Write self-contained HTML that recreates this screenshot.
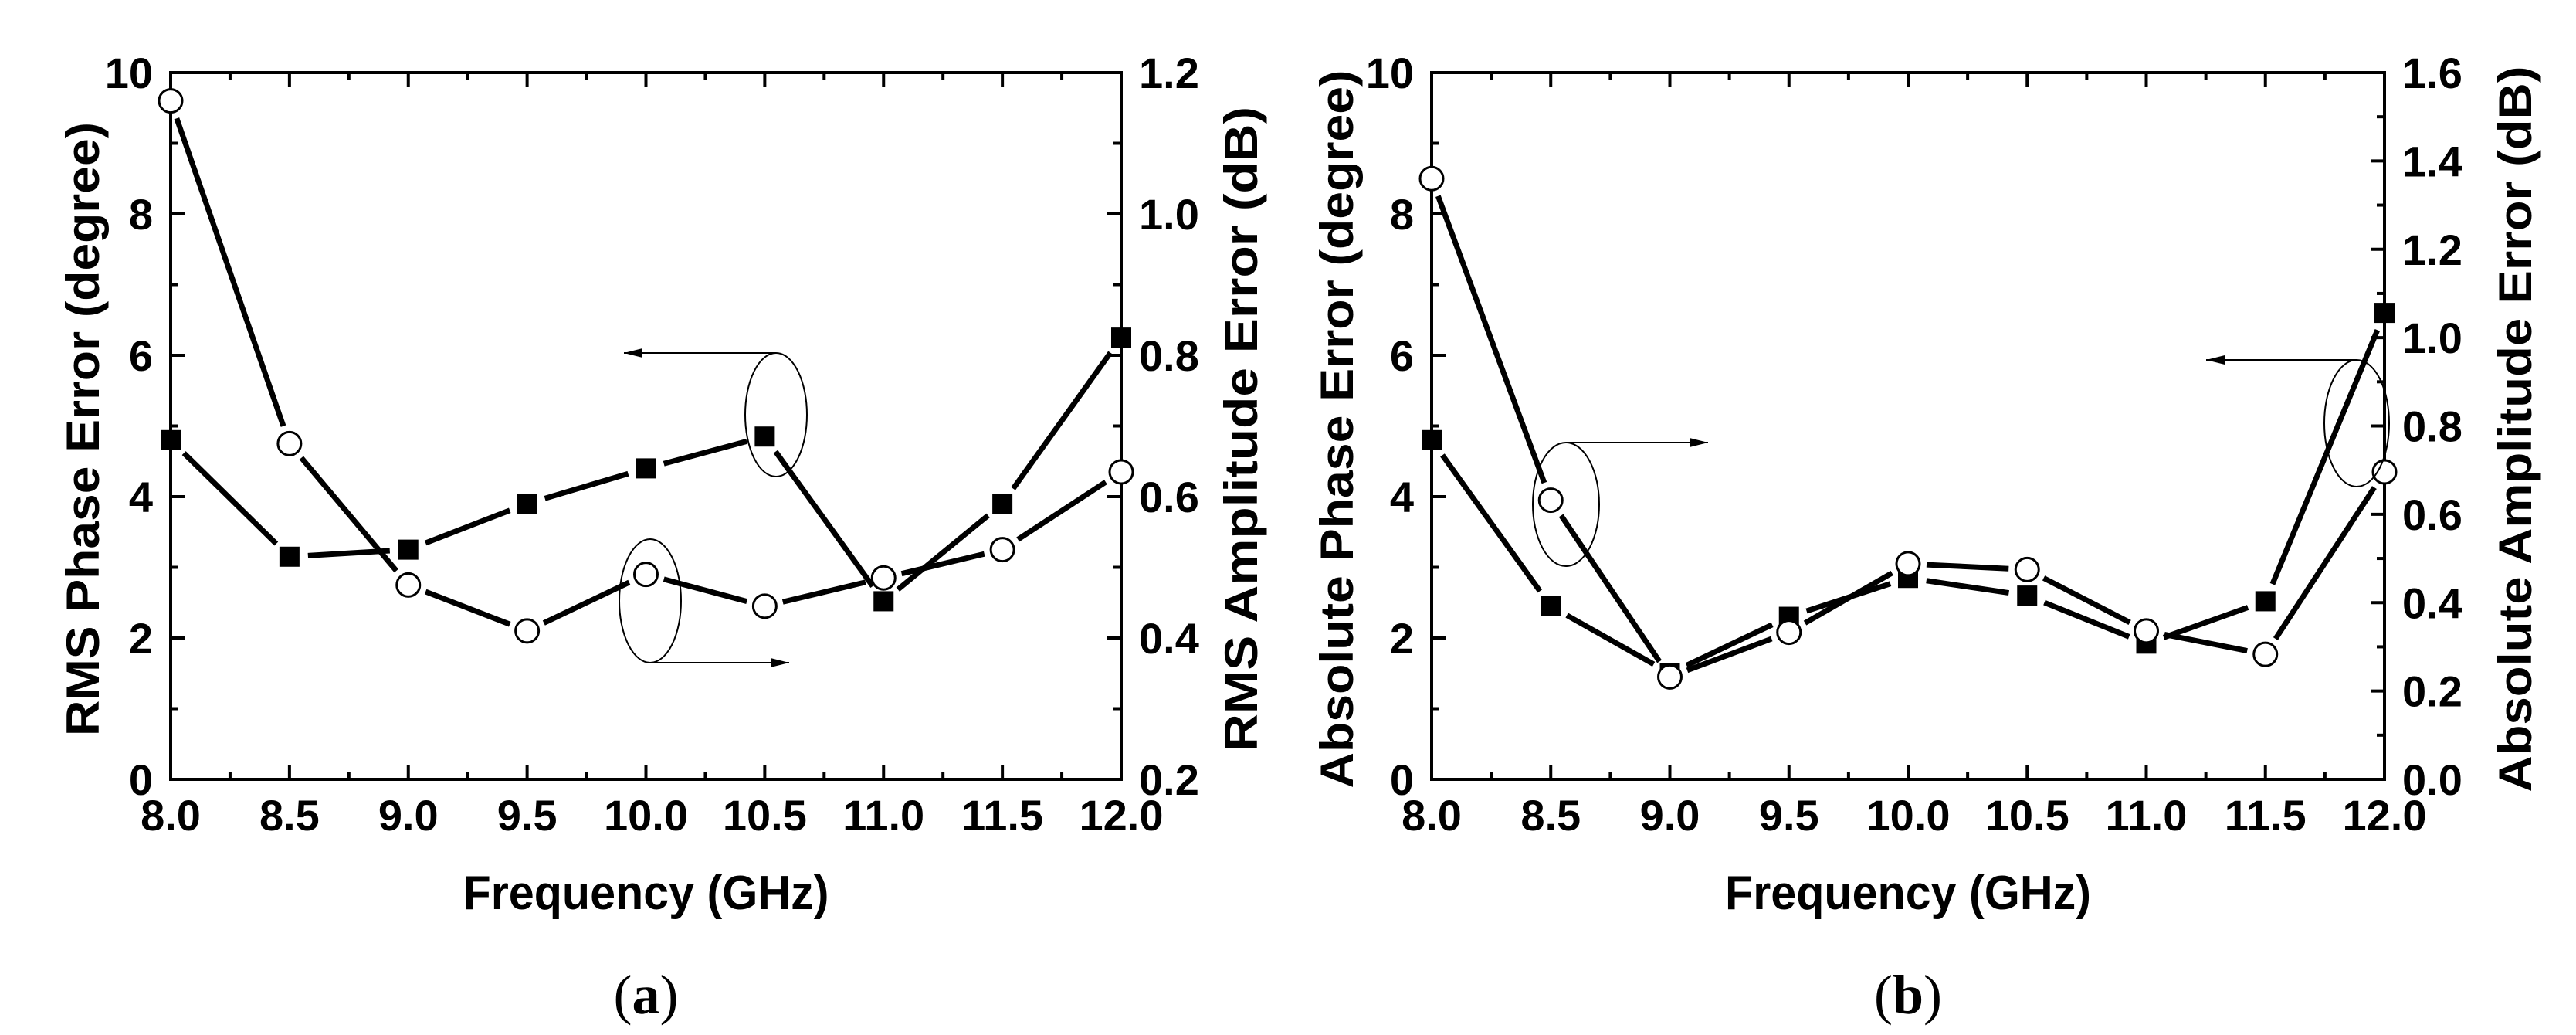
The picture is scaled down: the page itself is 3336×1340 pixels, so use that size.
<!DOCTYPE html>
<html><head><meta charset="utf-8"><style>
html,body{margin:0;padding:0;background:#fff;}
svg{display:block;}
text{font-family:"Liberation Sans",Arial,sans-serif;font-weight:bold;fill:#000;}
</style></head><body>
<svg id="fig" width="3336" height="1340" viewBox="0 0 3336 1340" xmlns="http://www.w3.org/2000/svg"></svg>
<script>
// ---------- data ----------
const freqs = [8.0, 8.5, 9.0, 9.5, 10.0, 10.5, 11.0, 11.5, 12.0];
const xTickLabels = ["8.0","8.5","9.0","9.5","10.0","10.5","11.0","11.5","12.0"];
// panel (a)
const rmsPhase = [4.8, 3.15, 3.25, 3.9, 4.4, 4.85, 2.52, 3.9, 6.25];
const rmsAmp = [1.16, 0.675, 0.475, 0.41, 0.49, 0.445, 0.485, 0.525, 0.635];
const aLeftTicks = ["0","2","4","6","8","10"];
const aRightTicks = ["0.2","0.4","0.6","0.8","1.0","1.2"];
// panel (b)
const absPhase = [4.8, 2.45, 1.5, 2.3, 2.85, 2.6, 1.92, 2.52, 6.6];
const absAmp = [1.36, 0.632, 0.232, 0.333, 0.488, 0.475, 0.336, 0.283, 0.696];
const bLeftTicks = ["0","2","4","6","8","10"];
const bRightTicks = ["0.0","0.2","0.4","0.6","0.8","1.0","1.2","1.4","1.6"];

const NS = "http://www.w3.org/2000/svg";
const svg = document.getElementById("fig");
function mk(tag, attrs, parent){
  const e = document.createElementNS(NS, tag);
  for (const k in attrs) e.setAttribute(k, attrs[k]);
  (parent||svg).appendChild(e);
  return e;
}
function txt(str, attrs, parent){ const t = mk("text", attrs, parent); t.textContent = str; return t; }

function panel(cfg){
  const g = mk("g", {});
  
  
  const L=cfg.left, R=cfg.right, T=94, B=1009;
  const xs = f => L + (f-8)/4*(R-L);
  const yl = v => B - (v-cfg.lmin)/(cfg.lmax-cfg.lmin)*(B-T);
  const yr = v => B - (v-cfg.rmin)/(cfg.rmax-cfg.rmin)*(B-T);
  const fr = mk("rect", {x:L,y:T,width:R-L,height:B-T,fill:"none",stroke:"#000","stroke-width":4}, g);
  
  
  for (let i=0;i<=16;i++){
    const x = L + i/16*(R-L); const len = i%2===0?18:10;
    mk("line",{x1:x,y1:B,x2:x,y2:B-len,stroke:"#000","stroke-width":4},g);
    mk("line",{x1:x,y1:T,x2:x,y2:T+len,stroke:"#000","stroke-width":4},g);
  }
  xTickLabels.forEach((s,i)=>{
    const t = txt(s,{x:xs(freqs[i]),y:1075,"font-size":56,"text-anchor":"middle"},g);
    
    
  });
  const nl = cfg.leftTicks.length-1;
  for (let i=0;i<=nl*2;i++){
    const y = B - i/(nl*2)*(B-T); const len = i%2===0?18:10;
    mk("line",{x1:L,y1:y,x2:L+len,y2:y,stroke:"#000","stroke-width":4},g);
  }
  cfg.leftTicks.forEach((s,i)=>{
    const t = txt(s,{x:L-23,y:B - i/nl*(B-T)+20,"font-size":56,"text-anchor":"end"},g);
    
    
  });
  const nr = cfg.rightTicks.length-1;
  for (let i=0;i<=nr*2;i++){
    const y = B - i/(nr*2)*(B-T); const len = i%2===0?18:10;
    mk("line",{x1:R,y1:y,x2:R-len,y2:y,stroke:"#000","stroke-width":4},g);
  }
  cfg.rightTicks.forEach((s,i)=>{
    const t = txt(s,{x:R+23,y:B - i/nr*(B-T)+20,"font-size":56,"text-anchor":"start"},g);
    
    
  });
  const xt = txt("Frequency (GHz)",{x:(L+R)/2,y:1177,"font-size":62,"text-anchor":"middle",textLength:474,lengthAdjust:"spacingAndGlyphs"},g);
  
  
  const cy = (T+B)/2+4;
  const lt = txt(cfg.leftTitle,{x:0,y:0,"font-size":60,"text-anchor":"middle",textLength:cfg.ltLen,lengthAdjust:"spacingAndGlyphs",transform:`translate(${cfg.ltX},${cy}) rotate(-90)`},g);
  
  
  const rt = txt(cfg.rightTitle,{x:0,y:0,"font-size":60,"text-anchor":"middle",textLength:cfg.rtLen,lengthAdjust:"spacingAndGlyphs",transform:`translate(${cfg.rtX},${cy}) rotate(-90)`},g);
  
  
  function series(vals, yf, kind){
    const sg = mk("g",{},g);
    
    
    const pts = vals.map((v,i)=>[xs(freqs[i]), yf(v)]);
    for (let i=0;i<pts.length-1;i++){
      const [x1,y1]=pts[i],[x2,y2]=pts[i+1];
      const d=Math.hypot(x2-x1,y2-y1), gp=24;
      if (d<2*gp) continue;
      const ux=(x2-x1)/d, uy=(y2-y1)/d;
      const ln = mk("line",{x1:x1+ux*gp,y1:y1+uy*gp,x2:x2-ux*gp,y2:y2-uy*gp,stroke:"#000","stroke-width":7},sg);
      
      
    }
    pts.forEach(([x,y])=>{
      let m;
      if (kind==="sq") m = mk("rect",{x:x-13,y:y-13,width:26,height:26,fill:"#000"},sg);
      else m = mk("circle",{cx:x,cy:y,r:15,fill:"#fff",stroke:"#000","stroke-width":3},sg);
      
      
    });
  }
  series(cfg.phase, yl, "sq");
  series(cfg.amp, yr, "ci");
  cfg.ann.forEach(a=>{
    const ag = mk("g",{},g);
    
    
    mk("ellipse",{cx:a.cx,cy:a.cy,rx:a.rx,ry:a.ry,fill:"none",stroke:"#000","stroke-width":2},ag);
    const ay = a.top ? a.cy-a.ry : a.cy+a.ry;
    mk("line",{x1:a.cx,y1:ay,x2:a.tx,y2:ay,stroke:"#000","stroke-width":2},ag);
    const dir = a.tx<a.cx?1:-1;
    mk("polygon",{points:`${a.tx},${ay} ${a.tx+dir*24},${ay-6} ${a.tx+dir*24},${ay+6}`,fill:"#000"},ag);
  });
  const cap = mk("text",{x:(L+R)/2,y:1312,"font-size":72,"text-anchor":"middle",style:"font-family:'Liberation Serif',serif;font-weight:normal"},g);
  
  
  cap.innerHTML = `(<tspan style="font-weight:bold">${cfg.cap}</tspan>)`;
}

panel({name:"panel-a",left:221,right:1452,lmin:0,lmax:10,rmin:0.2,rmax:1.2,
  leftTicks:aLeftTicks,rightTicks:aRightTicks,phase:rmsPhase,amp:rmsAmp,
  leftTitle:"RMS Phase Error (degree)",ltX:128,ltLen:795,
  rightTitle:"RMS Amplitude Error (dB)",rtX:1628,rtLen:835,cap:"a",
  ann:[{cx:1005,cy:537,rx:40,ry:80,top:true,tx:808},{cx:842,cy:778,rx:40,ry:80,top:false,tx:1022}]});
panel({name:"panel-b",left:1854,right:3088,lmin:0,lmax:10,rmin:0,rmax:1.6,
  leftTicks:bLeftTicks,rightTicks:bRightTicks,phase:absPhase,amp:absAmp,
  leftTitle:"Absolute Phase Error (degree)",ltX:1752,ltLen:930,
  rightTitle:"Absolute Amplitude Error (dB)",rtX:3278,rtLen:940,cap:"b",
  ann:[{cx:2028,cy:653,rx:43,ry:80,top:true,tx:2212},{cx:3052,cy:548,rx:42,ry:82,top:true,tx:2857}]});
</script>
</body></html>
